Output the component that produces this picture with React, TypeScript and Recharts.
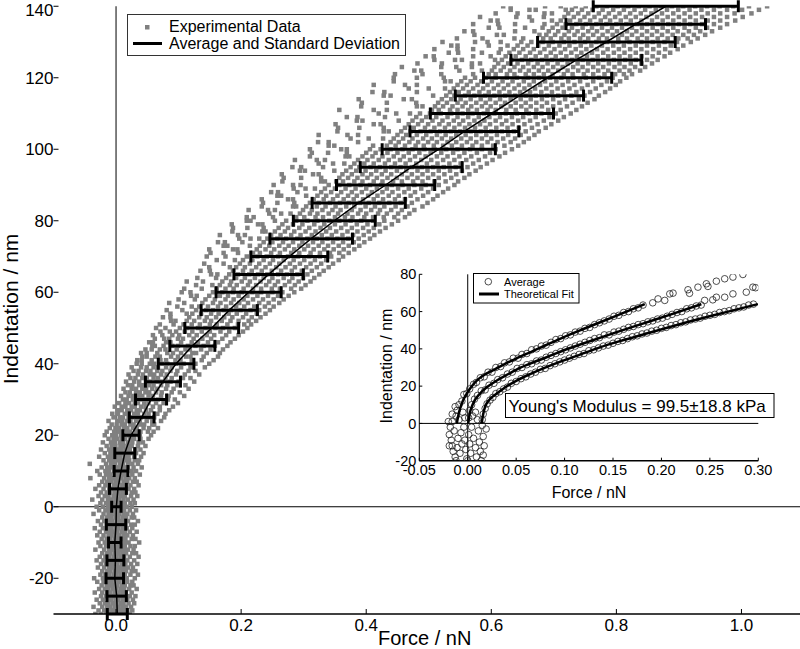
import { ScatterChart, Scatter, XAxis, YAxis, ReferenceLine, ErrorBar } from 'recharts';

// experimental data: [indentation nm, force values in 1e-3 nN]
const expRows: [number, number[]][] = [
  [-30, [-33, -24, -16, -11, -4, 3, 8, 15, 22]],
  [-29, [-28, -19, -13, -6, -1, 6, 11, 18, 26]],
  [-28, [-36, -22, -14, -9, -2, 3, 10, 16, 24]],
  [-27, [-26, -18, -12, -5, 0, 7, 12, 20, 29]],
  [-26, [-31, -21, -13, -8, -1, 4, 11, 18, 27]],
  [-25, [-24, -16, -11, -4, 1, 8, 13, 22, 31]],
  [-24, [-34, -22, -14, -9, -2, 3, 10, 15, 25]],
  [-23, [-27, -18, -12, -5, 0, 7, 13, 21, 33]],
  [-22, [-23, -15, -10, -3, 2, 9, 14, 23, 28]],
  [-21, [-30, -20, -12, -7, 0, 5, 12, 18, 26]],
  [-20, [-35, -21, -13, -8, -1, 4, 11, 17, 30]],
  [-19, [-25, -17, -11, -4, 1, 8, 14, 23, 35]],
  [-18, [-22, -14, -9, -2, 3, 10, 16, 25, 31]],
  [-17, [-29, -19, -11, -6, 1, 6, 13, 19, 27]],
  [-16, [-24, -16, -10, -3, 2, 9, 15, 24, 34]],
  [-15, [-31, -20, -12, -7, 0, 5, 12, 18, 29]],
  [-14, [-26, -17, -11, -4, 1, 8, 13, 22, 36]],
  [-13, [-22, -14, -9, -2, 3, 10, 16, 26, 32]],
  [-12, [-33, -19, -11, -6, 1, 6, 13, 19, 28]],
  [-11, [-25, -16, -10, -3, 2, 9, 14, 23, 30]],
  [-10, [-28, -18, -10, -5, 2, 7, 14, 20, 37]],
  [-9, [-23, -15, -9, -2, 3, 10, 15, 25, 31]],
  [-8, [-30, -20, -12, -7, 0, 5, 12, 18, 27]],
  [-7, [-26, -16, -10, -3, 2, 9, 14, 22, 33]],
  [-6, [-34, -21, -13, -8, -1, 4, 11, 17, 26]],
  [-5, [-24, -15, -9, -2, 3, 10, 15, 24, 30]],
  [-4, [-29, -19, -11, -6, 1, 6, 13, 19, 35]],
  [-3, [-22, -14, -8, -1, 4, 11, 16, 25, 29]],
  [-2, [-36, -20, -12, -7, 0, 5, 12, 18, 27]],
  [-1, [-27, -17, -11, -4, 1, 8, 13, 22, 32]],
  [0, [-31, -21, -13, -8, -1, 4, 11, 17, 25]],
  [1, [-25, -16, -10, -3, 2, 9, 14, 23, 30]],
  [2, [-38, -22, -13, -7, 0, 5, 12, 19, 28]],
  [3, [-28, -18, -12, -4, 1, 8, 14, 24, 34]],
  [4, [-24, -15, -9, -2, 3, 10, 16, 25, 31]],
  [5, [-33, -20, -11, -6, 1, 7, 14, 20, 29]],
  [6, [-27, -17, -11, -3, 2, 10, 15, 23, 36]],
  [7, [-22, -14, -8, -1, 4, 12, 18, 27, 33]],
  [8, [-41, -19, -11, -5, 2, 8, 15, 21, 30]],
  [9, [-26, -16, -10, -2, 3, 11, 17, 26, 38]],
  [10, [-30, -17, -11, -3, 3, 11, 17, 25, 32]],
  [11, [-23, -14, -8, 0, 6, 13, 19, 28, 41]],
  [12, [-42, -16, -8, -2, 6, 11, 19, 26, 35]],
  [13, [-20, -11, -5, 3, 8, 15, 21, 30, 37]],
  [14, [-27, -13, -7, 1, 7, 14, 20, 29, 40]],
  [15, [-18, -9, -3, 5, 10, 17, 23, 32, 44]],
  [16, [-24, -11, -5, 3, 9, 16, 22, 31, 39]],
  [17, [-15, -7, -1, 7, 12, 19, 25, 35, 47]],
  [18, [-21, -8, -2, 6, 11, 19, 26, 36, 43]],
  [19, [-12, -4, 2, 9, 14, 22, 29, 39, 52]],
  [20, [-18, -6, 0, 8, 13, 21, 28, 38, 56]],
  [21, [-15, -3, 4, 9, 17, 22, 32, 39, 51, 60]],
  [22, [-10, -1, 5, 13, 18, 27, 33, 44, 53, 67]],
  [23, [-7, 1, 9, 14, 23, 28, 38, 45, 58, 61]],
  [24, [-12, 3, 10, 18, 23, 32, 38, 49, 58, 72]],
  [25, [-4, 6, 11, 20, 25, 34, 40, 51, 61, 77]],
  [26, [-6, 3, 14, 20, 29, 35, 45, 52, 66, 79]],
  [27, [3, 9, 18, 24, 33, 38, 48, 56, 70, 85]],
  [28, [-2, 9, 15, 25, 30, 40, 47, 59, 70, 91]],
  [29, [5, 15, 21, 30, 35, 45, 52, 64, 76, 99]],
  [30, [11, 17, 27, 32, 41, 47, 58, 67, 83, 94]],
  [31, [8, 20, 27, 36, 42, 52, 59, 72, 84, 109]],
  [32, [15, 22, 32, 38, 47, 53, 64, 73, 89, 102]],
  [33, [12, 25, 32, 42, 48, 58, 66, 80, 92, 116]],
  [34, [19, 26, 37, 43, 53, 60, 72, 82, 98, 111]],
  [35, [16, 29, 37, 48, 54, 65, 73, 87, 100, 125]],
  [36, [23, 31, 42, 49, 60, 67, 79, 89, 107, 119]],
  [37, [20, 35, 43, 54, 61, 72, 81, 96, 110, 133]],
  [38, [28, 36, 48, 55, 66, 74, 87, 98, 116, 127]],
  [39, [25, 40, 49, 60, 67, 80, 89, 104, 119, 142]],
  [40, [33, 41, 54, 61, 73, 82, 96, 108, 127, 149]],
  [41, [34, 41, 57, 71, 80, 95, 103, 121, 137, 156]],
  [42, [42, 49, 63, 70, 88, 99, 112, 119, 140, 163]],
  [43, [40, 49, 66, 82, 91, 104, 122, 128, 145, 166]],
  [44, [47, 57, 70, 79, 97, 111, 118, 136, 151, 171]],
  [45, [58, 62, 76, 90, 99, 115, 127, 140, 158, 178]],
  [46, [53, 59, 80, 87, 104, 121, 131, 147, 163, 183]],
  [47, [62, 77, 85, 99, 107, 124, 138, 152, 170, 190]],
  [48, [59, 74, 90, 101, 117, 129, 145, 157, 176, 196]],
  [49, [71, 86, 96, 110, 122, 137, 150, 167, 181, 203]],
  [50, [64, 79, 102, 114, 131, 143, 159, 171, 190, 210]],
  [51, [70, 92, 108, 121, 134, 150, 161, 178, 195, 205, 216]],
  [52, [88, 95, 113, 125, 142, 152, 169, 183, 196, 212, 224]],
  [53, [75, 87, 117, 133, 145, 160, 173, 186, 203, 217, 231]],
  [54, [87, 113, 122, 136, 152, 164, 180, 193, 208, 225, 239]],
  [55, [81, 106, 128, 144, 155, 172, 184, 199, 215, 229, 246]],
  [56, [98, 121, 133, 147, 163, 176, 192, 205, 221, 238, 252]],
  [57, [85, 109, 138, 155, 167, 184, 197, 211, 229, 244, 261]],
  [58, [100, 126, 143, 158, 175, 188, 204, 219, 235, 252, 268]],
  [59, [120, 129, 149, 166, 179, 196, 210, 226, 243, 259, 276]],
  [60, [105, 119, 155, 170, 187, 201, 218, 232, 250, 266, 285]],
  [61, [109, 137, 161, 175, 188, 204, 219, 232, 249, 262, 280, 296]],
  [62, [128, 154, 166, 182, 193, 211, 224, 240, 254, 270, 286, 303]],
  [63, [113, 139, 170, 184, 201, 214, 231, 245, 259, 277, 292, 311]],
  [64, [130, 160, 176, 192, 206, 222, 236, 250, 268, 282, 299, 317]],
  [65, [152, 162, 181, 195, 213, 227, 242, 259, 273, 290, 306, 325]],
  [66, [135, 150, 187, 203, 217, 233, 249, 264, 281, 297, 313, 332]],
  [67, [149, 182, 192, 206, 224, 239, 256, 271, 286, 304, 321, 340]],
  [68, [141, 172, 198, 214, 229, 246, 261, 278, 294, 311, 328, 347]],
  [69, [161, 190, 203, 218, 236, 251, 268, 284, 301, 318, 336, 356]],
  [70, [145, 175, 209, 226, 241, 259, 275, 291, 309, 326, 344, 363]],
  [71, [151, 172, 195, 219, 230, 248, 262, 280, 293, 311, 326, 342, 357, 372]],
  [72, [149, 187, 194, 225, 239, 253, 270, 285, 301, 316, 333, 348, 364, 381]],
  [73, [172, 178, 214, 230, 245, 261, 276, 293, 307, 324, 339, 356, 372, 389]],
  [74, [163, 174, 202, 236, 250, 267, 283, 298, 315, 330, 347, 363, 380, 397]],
  [75, [197, 215, 229, 242, 258, 272, 290, 306, 321, 338, 354, 371, 388, 406]],
  [76, [166, 195, 206, 248, 263, 280, 295, 313, 329, 345, 362, 379, 396, 413]],
  [77, [186, 234, 239, 254, 270, 285, 303, 319, 336, 352, 370, 386, 404, 422]],
  [78, [187, 210, 236, 260, 275, 293, 309, 327, 342, 360, 377, 395, 412, 431]],
  [79, [185, 227, 234, 266, 283, 298, 317, 333, 350, 367, 385, 402, 421, 441]],
  [80, [209, 215, 254, 272, 288, 306, 322, 341, 357, 375, 392, 411, 429, 451]],
  [81, [209, 220, 251, 288, 301, 319, 331, 350, 366, 378, 397, 411, 428, 445, 462]],
  [82, [245, 264, 279, 294, 310, 322, 340, 355, 370, 387, 400, 419, 433, 451, 469]],
  [83, [212, 243, 254, 299, 313, 330, 346, 359, 377, 391, 408, 422, 440, 457, 477]],
  [84, [233, 283, 288, 304, 321, 335, 351, 368, 381, 399, 414, 429, 447, 466, 490]],
  [85, [235, 258, 285, 310, 324, 342, 358, 372, 390, 404, 421, 437, 455, 473, 498]],
  [86, [233, 275, 283, 316, 332, 347, 364, 380, 395, 412, 427, 446, 462, 482, 507]],
  [87, [258, 264, 304, 322, 336, 354, 371, 385, 403, 418, 436, 452, 471, 491, 514]],
  [88, [248, 259, 290, 328, 344, 360, 377, 393, 409, 426, 442, 461, 478, 499, 523]],
  [89, [284, 303, 318, 334, 350, 367, 383, 400, 417, 433, 451, 468, 488, 507, 531]],
  [90, [252, 283, 295, 340, 357, 373, 391, 406, 424, 441, 458, 477, 495, 516, 541]],
  [91, [266, 328, 334, 352, 363, 381, 394, 412, 426, 443, 457, 475, 490, 509, 527, 547]],
  [92, [268, 296, 328, 357, 371, 386, 402, 417, 434, 449, 466, 482, 499, 516, 536, 557]],
  [93, [265, 315, 324, 362, 377, 394, 408, 425, 440, 457, 473, 490, 507, 525, 544, 565]],
  [94, [294, 302, 349, 368, 384, 399, 416, 431, 449, 464, 482, 498, 516, 534, 553, 575]],
  [95, [282, 296, 331, 375, 389, 407, 422, 440, 455, 473, 489, 507, 524, 543, 562, 583]],
  [96, [324, 347, 365, 381, 397, 412, 430, 446, 463, 480, 497, 514, 533, 551, 571, 593]],
  [97, [286, 321, 334, 387, 402, 420, 436, 454, 470, 488, 504, 523, 541, 560, 580, 602]],
  [98, [310, 367, 373, 394, 410, 426, 444, 460, 478, 495, 513, 530, 549, 568, 590, 613]],
  [99, [313, 339, 369, 400, 415, 434, 450, 468, 485, 503, 520, 539, 557, 577, 598, 622]],
  [100, [310, 360, 369, 406, 423, 439, 458, 474, 493, 509, 528, 546, 566, 585, 607, 633]],
  [101, [340, 349, 411, 433, 447, 462, 479, 492, 508, 523, 537, 553, 570, 585, 603, 621, 643]],
  [102, [323, 340, 387, 439, 452, 469, 483, 499, 513, 530, 544, 561, 576, 594, 610, 631, 652]],
  [103, [375, 404, 427, 444, 459, 474, 491, 505, 521, 536, 552, 567, 585, 600, 619, 638, 660]],
  [104, [324, 370, 387, 450, 464, 481, 496, 513, 527, 544, 559, 576, 592, 609, 627, 647, 669]],
  [105, [354, 428, 436, 456, 471, 487, 503, 518, 535, 550, 567, 583, 600, 617, 636, 655, 676]],
  [106, [355, 389, 428, 462, 476, 494, 509, 526, 541, 558, 574, 591, 608, 626, 644, 665, 687]],
  [107, [351, 412, 423, 468, 483, 499, 517, 532, 549, 565, 582, 598, 617, 634, 653, 674, 696]],
  [108, [385, 394, 452, 474, 489, 506, 522, 540, 555, 573, 589, 607, 624, 643, 662, 684, 707]],
  [109, [369, 386, 430, 480, 496, 512, 530, 546, 563, 580, 597, 614, 633, 651, 671, 693, 716]],
  [110, [420, 448, 470, 486, 502, 519, 536, 554, 570, 588, 605, 623, 641, 660, 680, 703, 727]],
  [111, [357, 412, 433, 505, 516, 534, 546, 563, 577, 594, 607, 624, 639, 656, 672, 691, 711, 736]],
  [112, [392, 481, 490, 510, 523, 538, 554, 568, 585, 599, 616, 631, 648, 663, 681, 699, 721, 745]],
  [113, [393, 433, 480, 515, 529, 546, 559, 576, 591, 607, 622, 639, 655, 672, 689, 709, 730, 754]],
  [114, [388, 460, 473, 521, 536, 551, 567, 583, 598, 614, 631, 647, 663, 681, 699, 718, 740, 765]],
  [115, [428, 439, 507, 528, 541, 558, 573, 590, 605, 622, 638, 655, 671, 689, 707, 728, 749, 772]],
  [116, [410, 429, 481, 534, 548, 564, 581, 596, 613, 629, 646, 662, 680, 697, 716, 736, 758, 782]],
  [117, [468, 500, 526, 540, 555, 571, 587, 604, 620, 637, 653, 670, 688, 706, 725, 745, 767, 790]],
  [118, [412, 462, 481, 546, 561, 578, 594, 611, 627, 644, 661, 678, 696, 714, 733, 754, 776, 799]],
  [119, [444, 526, 535, 552, 567, 584, 601, 618, 634, 652, 668, 686, 704, 723, 742, 763, 785, 806]],
  [120, [444, 481, 524, 558, 574, 591, 607, 625, 641, 659, 676, 694, 712, 731, 751, 772, 794, 816]],
  [121, [446, 490, 520, 571, 596, 607, 625, 637, 655, 668, 684, 698, 716, 730, 748, 763, 781, 798, 812, 825]],
  [122, [477, 488, 549, 585, 601, 615, 630, 646, 660, 676, 691, 707, 722, 739, 754, 771, 787, 805, 821, 838]],
  [123, [457, 520, 544, 569, 605, 620, 637, 651, 668, 682, 699, 714, 731, 746, 763, 779, 797, 813, 830, 846]],
  [124, [482, 521, 569, 582, 611, 627, 642, 659, 674, 690, 706, 722, 738, 755, 771, 788, 805, 823, 840, 857]],
  [125, [509, 542, 553, 606, 617, 632, 649, 664, 681, 697, 713, 729, 746, 762, 779, 796, 814, 831, 849, 866]],
  [126, [495, 508, 571, 599, 623, 639, 655, 671, 688, 703, 720, 737, 753, 770, 787, 805, 822, 840, 858, 877]],
  [127, [532, 547, 585, 612, 629, 645, 662, 678, 695, 711, 728, 744, 761, 779, 796, 813, 831, 849, 868, 886]],
  [128, [509, 546, 571, 615, 636, 651, 668, 685, 701, 718, 735, 752, 769, 786, 804, 822, 840, 859, 878, 898]],
  [129, [536, 546, 596, 626, 642, 658, 675, 692, 709, 725, 743, 760, 777, 795, 812, 831, 849, 868, 887, 907]],
  [130, [522, 574, 594, 615, 648, 664, 682, 698, 716, 733, 750, 768, 785, 803, 821, 840, 858, 877, 897, 919]],
  [131, [545, 586, 637, 651, 683, 695, 712, 724, 742, 755, 772, 785, 803, 817, 834, 849, 866, 882, 899, 914, 930]],
  [132, [573, 609, 620, 677, 688, 702, 717, 733, 747, 763, 778, 794, 809, 825, 841, 857, 873, 890, 907, 924, 942]],
  [133, [557, 571, 638, 669, 692, 707, 724, 738, 755, 769, 786, 801, 817, 832, 849, 865, 882, 898, 916, 934, 953]],
  [134, [596, 613, 654, 682, 698, 714, 729, 746, 761, 777, 793, 809, 825, 841, 858, 874, 891, 909, 927, 945, 966]],
  [135, [571, 611, 638, 685, 705, 719, 736, 751, 768, 784, 800, 816, 833, 849, 866, 883, 900, 918, 937, 956, 977]],
  [136, [599, 610, 665, 697, 711, 726, 742, 758, 775, 790, 807, 823, 840, 857, 874, 891, 909, 927, 946, 966, 990]],
  [137, [582, 640, 661, 684, 717, 732, 749, 765, 782, 798, 815, 831, 848, 865, 882, 900, 918, 937, 956, 977, 1002]],
  [138, [607, 642, 685, 697, 723, 739, 755, 772, 788, 805, 822, 839, 856, 873, 891, 909, 927, 946, 966, 989, 1016]],
  [139, [631, 661, 671, 719, 729, 745, 762, 778, 795, 812, 829, 846, 863, 881, 899, 917, 936, 956, 977, 1001, 1028]],
  [140, [619, 631, 686, 711, 735, 751, 768, 785, 802, 819, 836, 853, 871, 889, 907, 926, 945, 965, 987, 1012, 1041]],
];

// average curve with standard deviation
const avgY = [-30, -25, -20, -15, -10, -5, 0, 5, 10, 15, 20, 25, 30, 35, 40, 45, 50, 55, 60, 65, 70, 75, 80, 85, 90, 95, 100, 105, 110, 115, 120, 125, 130, 135, 140];
const avgF = [0.002, 0.001, -0.002, -0.001, -0.002, 0, 0.0005, 0.003, 0.008, 0.014, 0.024, 0.041, 0.056, 0.075, 0.096, 0.122, 0.153, 0.181, 0.212, 0.244, 0.277, 0.312, 0.349, 0.388, 0.431, 0.472, 0.516, 0.557, 0.601, 0.645, 0.690, 0.736, 0.784, 0.831, 0.879];
const avgErr = [0.016, 0.0155, 0.014, 0.0135, 0.010, 0.0155, 0.0075, 0.0135, 0.011, 0.016, 0.013, 0.0198, 0.0248, 0.028, 0.0285, 0.036, 0.043, 0.045, 0.052, 0.0555, 0.0615, 0.066, 0.0655, 0.0745, 0.0785, 0.0815, 0.0905, 0.087, 0.0985, 0.1025, 0.1025, 0.1045, 0.110, 0.1115, 0.116];

const mainXTicks = [0, 0.2, 0.4, 0.6, 0.8, 1.0];
const mainYTicks = [-20, 0, 20, 40, 60, 80, 100, 120, 140];

// inset: averaged curves [force nN, indentation nm]
const insetTop = [[-0.016, 1], [-0.012, 4], [-0.011, 7], [-0.009, 10], [-0.006, 12], [-0.004, 15.5], [-0.001, 16], [0.002, 18.5], [0.006, 21], [0.009, 22], [0.013, 24.5], [0.017, 25], [0.021, 27.5], [0.025, 27.5], [0.029, 30], [0.034, 30.5], [0.038, 32.5], [0.043, 33], [0.047, 35], [0.052, 35], [0.056, 37], [0.061, 37.5], [0.066, 39.5], [0.071, 40], [0.076, 41.5], [0.081, 42], [0.086, 43.5], [0.091, 45], [0.096, 45.5], [0.101, 47], [0.106, 47.5], [0.111, 49], [0.116, 49.5], [0.121, 51], [0.126, 51.5], [0.131, 53], [0.136, 54], [0.141, 55], [0.146, 56], [0.151, 57.5], [0.156, 58], [0.161, 59.5], [0.166, 60], [0.171, 61.5], [0.176, 62], [0.181, 63.5], [0.191, 64.7], [0.1965, 66.8], [0.2034, 66], [0.2086, 69.5], [0.212, 69.9], [0.2274, 71.7], [0.229, 69.8], [0.2377, 73.1], [0.2464, 74.9], [0.248, 73.5], [0.2567, 76.3], [0.2653, 77.6], [0.2738, 78.5], [0.2841, 79.9]];
const insetMid = [[0.001, 3], [0.002, 7], [0.004, 10], [0.007, 13], [0.010, 15], [0.014, 17.5], [0.018, 18], [0.022, 20.5], [0.027, 21.5], [0.031, 23.5], [0.036, 24.5], [0.041, 26.5], [0.046, 27.5], [0.051, 29.5], [0.056, 30], [0.061, 31.5], [0.066, 32], [0.071, 33.5], [0.076, 34], [0.081, 35.5], [0.086, 36.5], [0.091, 37.5], [0.096, 38.5], [0.101, 39.5], [0.106, 40.5], [0.111, 41.5], [0.116, 42.5], [0.121, 43.5], [0.126, 44.5], [0.131, 45.5], [0.136, 46], [0.141, 47.5], [0.146, 47.5], [0.151, 49], [0.156, 49.5], [0.161, 50.5], [0.166, 51.5], [0.171, 52], [0.176, 53], [0.181, 53.5], [0.186, 54.5], [0.191, 55], [0.196, 56], [0.201, 56.5], [0.206, 57.5], [0.211, 58.5], [0.216, 59.5], [0.221, 60], [0.226, 61.5], [0.231, 62], [0.236, 63], [0.241, 63.5], [0.2446, 66], [0.253, 66.3], [0.2567, 67.7], [0.2653, 67.7], [0.2738, 69.5], [0.2876, 70.4], [0.2944, 73.1], [0.2972, 72.8]];
const insetBot = [[0.015, 2], [0.016, 5], [0.018, 8], [0.020, 10.5], [0.023, 12.5], [0.026, 14], [0.029, 16], [0.033, 17], [0.037, 18.5], [0.041, 19.5], [0.045, 21.5], [0.050, 22.5], [0.055, 24], [0.060, 25], [0.065, 26.5], [0.070, 27.5], [0.075, 29], [0.080, 29.5], [0.085, 31], [0.090, 32], [0.095, 33], [0.100, 34], [0.105, 35], [0.110, 36], [0.115, 37], [0.120, 37.5], [0.125, 39], [0.130, 39.5], [0.135, 40.5], [0.140, 41.5], [0.145, 42], [0.150, 43], [0.155, 44], [0.160, 44.5], [0.165, 45.5], [0.170, 46.5], [0.175, 47], [0.180, 48], [0.185, 48.5], [0.190, 49.5], [0.195, 50], [0.200, 51], [0.205, 51.5], [0.210, 52.5], [0.215, 53], [0.220, 54], [0.225, 54.5], [0.230, 55.5], [0.235, 56], [0.240, 56.5], [0.245, 57.5], [0.250, 58], [0.255, 58.5], [0.260, 59.5], [0.265, 60], [0.270, 60.5], [0.275, 61.5], [0.280, 62], [0.285, 62.5], [0.290, 63.5], [0.295, 64]];
const insetNeg = [[-0.020, 1], [-0.018, -2], [-0.019, -6], [-0.017, -9], [-0.019, -12], [-0.016, -12], [-0.015, -15], [-0.013, -18], [-0.012, -20], [-0.014, -4], [-0.010, -8], [-0.011, -13], [-0.008, -16], [-0.006, -11], [-0.007, -5], [-0.004, -2], [-0.003, -9], [-0.002, -14], [-0.001, -19], [0.000, -20], [0.001, -6], [0.002, -11], [0.003, -16], [0.004, -2], [0.006, -8], [0.008, -13], [0.009, -18], [0.011, -4], [0.012, -10], [0.013, -15], [0.014, -20], [0.016, -7], [0.017, -12], [0.016, -17], [0.019, -3], [0.015, -1], [0.010, 2], [0.005, 4], [-0.003, 3], [-0.009, 2], [-0.016, 5], [-0.013, 9], [-0.005, 6], [0.008, 6]];

// inset: theoretical fits
const fitTop = [[-0.0113, 0], [-0.009, 6], [-0.0055, 11.5], [-0.001, 16], [0.004, 19.8], [0.0093, 23], [0.017, 26], [0.0264, 28.6], [0.038, 31.8], [0.0505, 34.9], [0.065, 38.3], [0.08, 41.8], [0.0986, 46.2], [0.12, 50.8], [0.15, 57], [0.1828, 64]];
const fitMid = [[0.0005, 0], [0.002, 5], [0.005, 10], [0.0127, 16], [0.02, 19.5], [0.03, 23], [0.042, 26.5], [0.054, 29.8], [0.068, 32.8], [0.0814, 35.5], [0.10, 39.4], [0.12, 43], [0.15, 48.3], [0.18, 53.4], [0.21, 58.5], [0.2412, 64]];
const fitBot = [[0.0144, 0], [0.016, 5], [0.0178, 8.7], [0.022, 12.5], [0.03, 16], [0.04, 19.8], [0.0505, 23], [0.065, 26.6], [0.078, 29.5], [0.095, 33], [0.1124, 36.2], [0.1364, 40.8], [0.16, 44.6], [0.1845, 48.2], [0.205, 51.2], [0.23, 54.8], [0.253, 57.9], [0.275, 60.8], [0.2996, 64]];

const insetXTicks = [-0.05, 0, 0.05, 0.1, 0.15, 0.2, 0.25, 0.3];
const insetYTicks = [-20, 0, 20, 40, 60, 80];

const expPoints = expRows.flatMap(([y, xs]) => xs.map((v) => ({ x: v / 1000, y })));
const avgPoints = avgY.map((y, i) => ({ x: avgF[i], y, err: avgErr[i] }));
const toXY = (arr: number[][]) => arr.map(([x, y]) => ({ x, y }));
const insetPoints = toXY([...insetNeg, ...insetTop, ...insetMid, ...insetBot]);

const Square = (p: any) => <rect x={p.cx - 2.25} y={p.cy - 2.25} width={4.5} height={4.5} fill="#808080" />;
const Ring = (p: any) => <circle cx={p.cx} cy={p.cy} r={3.3} fill="none" stroke="#222" strokeWidth={0.8} />;
const Empty = () => <g />;

const font = '"Liberation Sans", Arial, sans-serif';
const mainMargin = { top: 6.25, right: 0, bottom: 5, left: 3.5 };

export default function App() {
  return (
    <div style={{ position: 'absolute', left: 0, top: 0, width: 800, height: 649, overflow: 'hidden', background: '#fff', fontFamily: font }}>
      {/* layer 1: experimental points under everything */}
      <div style={{ position: 'absolute', left: 0, top: 0 }}>
        <ScatterChart width={804} height={649} margin={mainMargin}>
          <XAxis type="number" dataKey="x" domain={[-0.1, 1.1]} ticks={mainXTicks} height={30} allowDataOverflow
            axisLine={false} tickLine={false} tick={false} />
          <YAxis type="number" dataKey="y" domain={[-30, 140]} ticks={mainYTicks} width={50} allowDataOverflow
            axisLine={false} tickLine={false} tick={false} />
          <ReferenceLine x={0} stroke="#000" strokeWidth={1} />
          <ReferenceLine y={0} stroke="#000" strokeWidth={1} />
          <Scatter data={expPoints} shape={Square} isAnimationActive={false} />
        </ScatterChart>
      </div>
      {/* layer 2: axes, average and standard deviation */}
      <div style={{ position: 'absolute', left: 0, top: 0 }}>
        <ScatterChart width={804} height={649} margin={mainMargin}>
          <XAxis type="number" dataKey="x" domain={[-0.1, 1.1]} ticks={mainXTicks} tickFormatter={(v) => v.toFixed(1)}
            height={30} allowDataOverflow axisLine={{ stroke: '#000', strokeWidth: 1.5 }} tickLine={{ stroke: '#000' }}
            tickSize={-5} tickMargin={10} tick={{ fill: '#000', fontSize: 17 }} />
          <YAxis type="number" dataKey="y" domain={[-30, 140]} ticks={mainYTicks} width={50} allowDataOverflow
            axisLine={false} tickLine={{ stroke: '#000' }} tickSize={-5} tickMargin={5} tick={{ fill: '#000', fontSize: 17 }} />
          <Scatter data={avgPoints} shape={Empty} line={{ stroke: '#000', strokeWidth: 1.5 }} isAnimationActive={false}>
            <ErrorBar dataKey="err" direction="x" width={6} strokeWidth={3} stroke="#000" />
          </Scatter>
        </ScatterChart>
      </div>
      <div style={{ position: 'absolute', left: 380, top: 250 }}>
        <ScatterChart width={420} height={260} margin={{ top: 24.3, right: 41.7, bottom: 19.3, left: 9.3 }}>
          <XAxis type="number" dataKey="x" domain={[-0.05, 0.3]} ticks={insetXTicks} tickFormatter={(v) => v.toFixed(2)}
            height={30} allowDataOverflow axisLine={{ stroke: '#000', strokeWidth: 1.5 }} tickLine={{ stroke: '#000' }}
            tickSize={-3} tickMargin={7} tick={{ fill: '#000', fontSize: 14.5 }} />
          <YAxis type="number" dataKey="y" domain={[-20, 80]} ticks={insetYTicks} width={30} allowDataOverflow
            axisLine={{ stroke: '#000', strokeWidth: 1 }} tickLine={{ stroke: '#000' }} tickSize={-3} tickMargin={6}
            tick={{ fill: '#000', fontSize: 14.5 }} />
          <ReferenceLine x={0} stroke="#000" strokeWidth={1} />
          <ReferenceLine y={0} stroke="#000" strokeWidth={1} />
          <Scatter data={insetPoints} shape={Ring} isAnimationActive={false} />
          <Scatter data={toXY(fitTop)} shape={Empty} line={{ stroke: '#000', strokeWidth: 2.5 }} lineJointType="monotoneX" isAnimationActive={false} />
          <Scatter data={toXY(fitMid)} shape={Empty} line={{ stroke: '#000', strokeWidth: 2.5 }} lineJointType="monotoneX" isAnimationActive={false} />
          <Scatter data={toXY(fitBot)} shape={Empty} line={{ stroke: '#000', strokeWidth: 2.5 }} lineJointType="monotoneX" isAnimationActive={false} />
        </ScatterChart>
      </div>
      <svg width={800} height={649} style={{ position: 'absolute', left: 0, top: 0, pointerEvents: 'none' }} fontFamily={font}>
        <text x={18} y={309} transform="rotate(-90 18 309)" textAnchor="middle" fontSize={21}>Indentation / nm</text>
        <text x={378} y={645} fontSize={20}>Force / nN</text>
        <rect x={127.5} y={14.5} width={278} height={41} fill="#fff" stroke="#333" />
        <rect x={145} y={25} width={4.5} height={4.5} fill="#808080" />
        <text x={169} y={31.5} fontSize={16}>Experimental Data</text>
        <line x1={133} x2={162} y1={43.5} y2={43.5} stroke="#000" strokeWidth={3} />
        <text x={169} y={49} fontSize={16}>Average and Standard Deviation</text>
        <text x={392} y={366} transform="rotate(-90 392 366)" textAnchor="middle" fontSize={16}>Indentation / nm</text>
        <text x={589} y={498} textAnchor="middle" fontSize={16}>Force / nN</text>
        <rect x={473.5} y={273.5} width={105.5} height={29.5} fill="#fff" stroke="#000" />
        <circle cx={488.3} cy={281.7} r={3.3} fill="none" stroke="#222" strokeWidth={0.8} />
        <text x={504} y={285.7} fontSize={11}>Average</text>
        <line x1={479} x2={499} y1={294} y2={294} stroke="#000" strokeWidth={3} />
        <text x={504} y={298.3} fontSize={11}>Theoretical Fit</text>
        <rect x={505.5} y={393.5} width={268.5} height={24} fill="#fff" stroke="#000" />
        <text x={508.5} y={411.7} fontSize={17}>{"Young's Modulus = 99.5±18.8 kPa"}</text>
      </svg>
    </div>
  );
}
